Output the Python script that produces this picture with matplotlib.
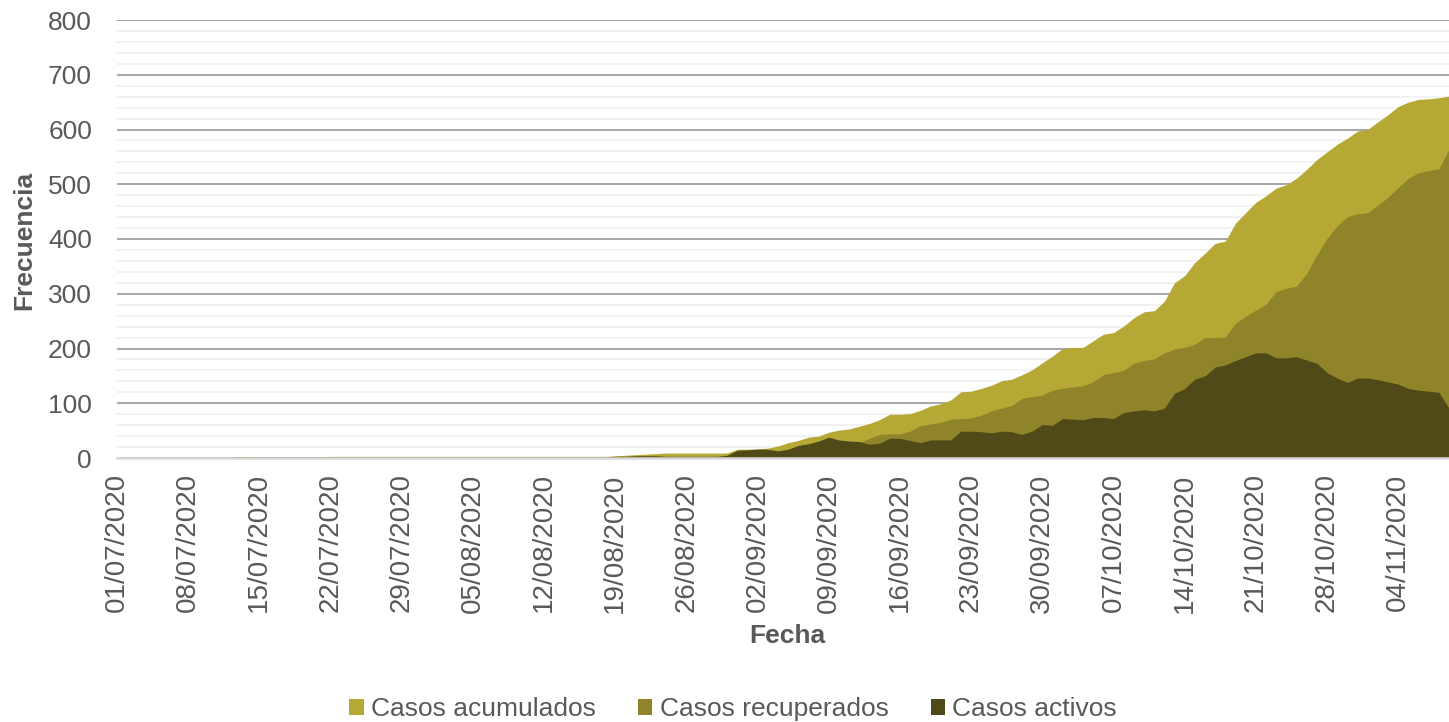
import matplotlib
matplotlib.use("Agg")
import matplotlib.pyplot as plt
import matplotlib.dates as mdates
from matplotlib.patches import Patch
import pandas as pd

plt.rcParams['font.family'] = ['Liberation Sans', 'DejaVu Sans']

# ---------------- data ----------------
fecha_inicio = "2020-07-01"
n_dias = 132
fechas = pd.date_range(fecha_inicio, periods=n_dias, freq="D")

casos_acumulados = [
    0, 0, 0, 0, 0, 0, 0, 0, 0, 0, 0, 1, 3, 2, 2, 2, 2, 2, 2, 2,
    2, 3, 3, 3, 3, 3, 3, 3, 3, 3, 3, 3, 3, 3, 3, 3, 3, 3, 3, 3,
    3, 3, 3, 3, 3, 3, 3, 3, 3, 4, 5, 6, 7, 8, 9, 9, 9, 9, 9, 9,
    9, 16, 16, 17, 18, 22, 28, 32, 38, 40, 47, 51, 53, 58, 63, 70, 80, 80, 81, 87,
    95, 99, 106, 121, 122, 127, 133, 141, 144, 152, 161, 174, 186, 200, 202, 202, 214, 226, 229, 241,
    256, 267, 269, 286, 320, 333, 357, 374, 392, 396, 429, 448, 467, 479, 493, 499, 511, 527, 545, 559,
    573, 584, 597, 600, 614, 627, 642, 650, 655, 656, 658, 661,
]

casos_recuperados = [
    0, 0, 0, 0, 0, 0, 0, 0, 0, 0, 0, 0, 0, 0, 0, 0, 0, 0, 0, 0,
    0, 1, 1, 1, 1, 1, 1, 1, 1, 1, 1, 1, 1, 1, 1, 1, 1, 1, 1, 1,
    1, 1, 1, 1, 1, 1, 1, 1, 1, 1, 1, 1, 1, 1, 1, 1, 1, 1, 1, 1,
    4, 2, 1, 1, 2, 9, 12, 9, 12, 9, 9, 18, 22, 28, 36, 43, 44, 44, 49, 59,
    62, 65, 71, 72, 73, 78, 86, 91, 96, 109, 112, 115, 124, 127, 130, 132, 139, 152, 156, 160,
    173, 178, 181, 192, 199, 202, 208, 220, 220, 221, 246, 259, 270, 281, 304, 310, 314, 337, 371, 401,
    424, 441, 446, 448, 462, 476, 494, 511, 521, 525, 528, 564,
]

casos_activos = [
    0, 0, 0, 0, 0, 0, 0, 0, 0, 0, 0, 1, 2, 2, 2, 2, 2, 2, 2, 2,
    2, 2, 2, 2, 2, 2, 2, 2, 2, 2, 2, 2, 2, 2, 2, 2, 2, 2, 2, 2,
    2, 2, 2, 2, 2, 2, 2, 2, 2, 3, 3, 4, 4, 4, 3, 3, 3, 3, 3, 3,
    5, 14, 15, 16, 16, 13, 16, 23, 26, 31, 38, 33, 31, 30, 25, 27, 36, 36, 32, 28,
    33, 33, 33, 49, 49, 48, 46, 49, 48, 43, 49, 61, 60, 72, 71, 70, 74, 74, 72, 83,
    86, 88, 86, 91, 118, 127, 144, 150, 166, 170, 178, 185, 192, 192, 183, 183, 185, 179, 173, 156,
    146, 138, 146, 146, 143, 139, 135, 127, 124, 122, 120, 91,
]

series_nombres = ["Casos acumulados", "Casos recuperados", "Casos activos"]
series_colores = ["#B5A834", "#8F842A", "#504918"]
y_ticks = [0, 100, 200, 300, 400, 500, 600, 700, 800]
x_ticks = fechas[::7]

# ---------------- figure ----------------
W, H = 1449, 722
fig = plt.figure(figsize=(W / 100, H / 100), dpi=100)
ax = fig.add_axes([117 / W, 1 - 458 / H, (1449 - 117) / W, (458 - 20) / H])

text_color = "#595959"

for vals, col in zip([casos_acumulados, casos_recuperados, casos_activos], series_colores):
    ax.fill_between(fechas, 0, vals, color=col, linewidth=0, zorder=3)

ax.set_xlim(fechas[0], fechas[-1])
ax.set_ylim(0, 800)

ax.set_yticks(y_ticks)
ax.set_yticks(range(0, 801, 20), minor=True)
ax.grid(axis="y", which="major", color="#A6A6A6", linewidth=1.4, zorder=1)
ax.grid(axis="y", which="minor", color="#F2F2F2", linewidth=1.4, zorder=0.5)
ax.set_axisbelow(True)

ax.set_xticks(x_ticks)
ax.xaxis.set_major_formatter(mdates.DateFormatter("%d/%m/%Y"))
ax.tick_params(axis="x", which="both", length=0, pad=11, labelsize=20,
               labelcolor=text_color, labelrotation=90)
ax.tick_params(axis="y", which="both", length=0, pad=18, labelsize=19,
               labelcolor=text_color)

for s in ["top", "right", "left"]:
    ax.spines[s].set_visible(False)
ax.spines["bottom"].set_color("#D9D9D9")
ax.spines["bottom"].set_linewidth(1.8)
ax.spines["bottom"].set_zorder(4)

fig.text(24 / W, 1 - 240 / H, "Frecuencia", rotation=90, ha="center", va="center",
         fontsize=19, fontweight="bold", color=text_color)
fig.text(787 / W, 1 - 636 / H, "Fecha", ha="center", va="center",
         fontsize=19, fontweight="bold", color=text_color)

handles = [Patch(facecolor=c, edgecolor="none", label=n)
           for n, c in zip(series_nombres, series_colores)]
fig.legend(handles=handles, loc="center", bbox_to_anchor=(733 / W, 1 - 709 / H),
           ncol=3, frameon=False, fontsize=19, labelcolor=text_color,
           handlelength=0.55, handleheight=0.55, handletextpad=0.27,
           columnspacing=1.6, borderpad=0)

fig.savefig("out.png", dpi=100)
